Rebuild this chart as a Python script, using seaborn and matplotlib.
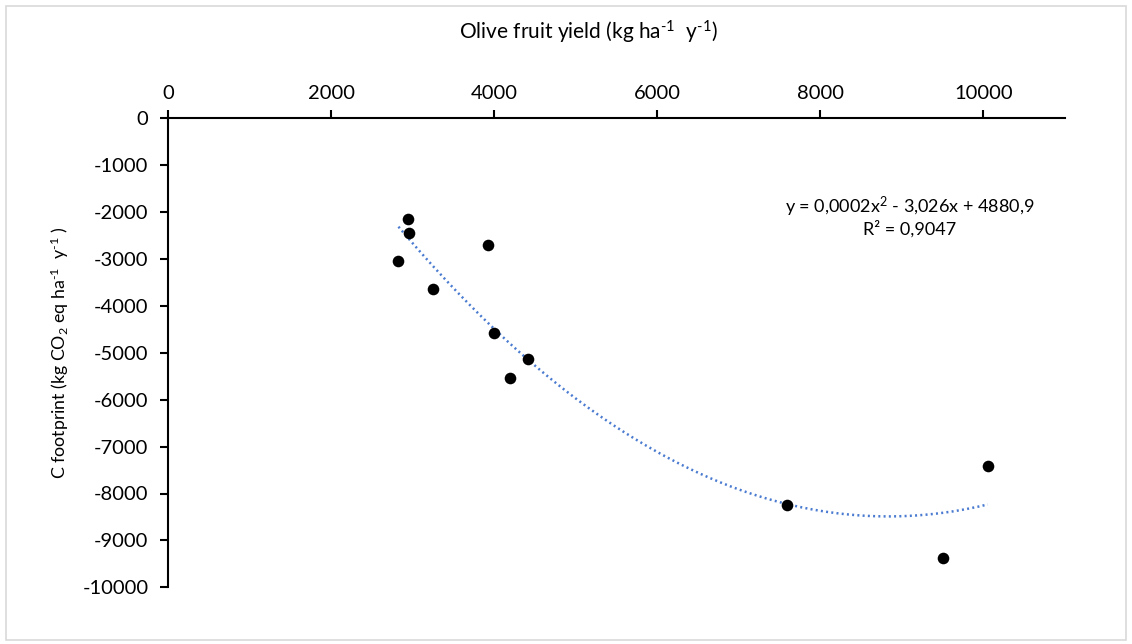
import numpy as np
import pandas as pd
import matplotlib
matplotlib.use("Agg")
import matplotlib.pyplot as plt
import seaborn as sns
from matplotlib.patches import Rectangle

# Data
yield_kg = [2949, 2957, 2826, 3248, 3923, 4000, 4413, 4196, 7591, 10053, 9501]
footprint = [-2147, -2452, -3049, -3640, -2701, -4578, -5139, -5531, -8252, -7414, -9369]
x_ticks = [0, 2000, 4000, 6000, 8000, 10000]
y_ticks = [0, -1000, -2000, -3000, -4000, -5000, -6000, -7000, -8000, -9000, -10000]
x_label = "Olive fruit yield (kg ha$^{\u2010 1}$  y$^{\u2010 1}$)"
y_label = "C footprint (kg CO$_{2}$ eq ha$^{\u2010 1}$  y$^{\u2010 1}$ )"
eq_text = "y = 0,0002x$^{2}$ - 3,026x + 4880,9"
r2_text = "R² = 0,9047"

sns.set_theme(style="white")
plt.rcParams['font.family'] = ['Lato', 'DejaVu Sans']
plt.rcParams['mathtext.fontset'] = 'custom'
plt.rcParams['mathtext.rm'] = 'Lato'
plt.rcParams['mathtext.it'] = 'Lato'
plt.rcParams['mathtext.default'] = 'regular'
plt.rcParams['axes.unicode_minus'] = False

df = pd.DataFrame({"x": yield_kg, "y": footprint})

fig = plt.figure(figsize=(11.32, 6.44), dpi=100)
ax = fig.add_axes([168 / 1132, 1 - 587.3 / 644, (1065 - 168) / 1132, (587.3 - 118.3) / 644])

# quadratic trendline fitted to the data
coef = np.polyfit(df["x"], df["y"], 2)
xs = np.linspace(df["x"].min(), df["x"].max(), 200)
trend = pd.DataFrame({"x": xs, "y": np.polyval(coef, xs)})
sns.lineplot(data=trend, x="x", y="y", ax=ax, color="#4a7bd0", linewidth=1.8,
             linestyle=(0, (0.8, 1.3)), zorder=2)
sns.scatterplot(data=df, x="x", y="y", ax=ax, color="black", s=70, edgecolor="black",
                linewidth=0, zorder=3)

ax.set_xlim(0, 11000)
ax.set_ylim(-10000, 0)
ax.set_xticks(x_ticks)
ax.set_yticks(y_ticks)
ax.xaxis.tick_top()
ax.set_xlabel("")
ax.set_ylabel("")
for side in ["right", "bottom"]:
    ax.spines[side].set_visible(False)
for side in ["left", "top"]:
    ax.spines[side].set_color("black")
    ax.spines[side].set_linewidth(1.5)
ax.tick_params(axis="x", which="both", top=True, bottom=False, direction="out",
               length=6, width=1.5, color="black", labelsize=14.5, pad=6, labelcolor="black")
ax.tick_params(axis="y", which="both", left=True, direction="out",
               length=6, width=1.5, color="black", labelsize=14.5, pad=8, labelcolor="black")
ax.grid(False)

fig.text(588 / 1132, 1 - 32 / 644, x_label, ha="center", va="center", fontsize=15, color="black")
fig.text(60 / 1132, 1 - 353 / 644, y_label, ha="center", va="center", rotation=90,
         fontsize=12.8, color="black")
fig.text(910 / 1132, 1 - 207 / 644, eq_text, ha="center", va="center", fontsize=13, color="black")
fig.text(910 / 1132, 1 - 229 / 644, r2_text, ha="center", va="center", fontsize=13, color="black")

fig.patches.append(Rectangle((6 / 1132, 4 / 644), 1 - 12 / 1132, 1 - 10 / 644,
                             transform=fig.transFigure, fill=False,
                             edgecolor="#d9d9d9", linewidth=1.2))

fig.savefig("out.png", dpi=100, facecolor="white")
